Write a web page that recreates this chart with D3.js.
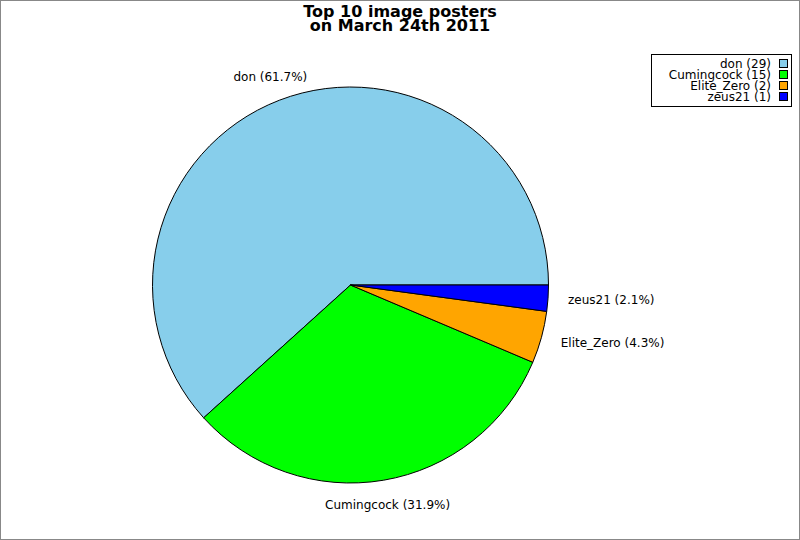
<!DOCTYPE html>
<html>
<head>
<meta charset="utf-8">
<script src="https://cdn.jsdelivr.net/npm/d3@7.9.0/dist/d3.min.js"></script>
<style>
  html, body { margin: 0; padding: 0; background: #fff; }
  svg { display: block; font-family: "DejaVu Sans", sans-serif; }
</style>
</head>
<body>
<svg id="chart" width="800" height="540"></svg>
<script>
const titleLines = ['Top 10 image posters', 'on March 24th 2011'];
const posters = ['don', 'Cumingcock', 'Elite_Zero', 'zeus21'];
const counts = [29, 15, 2, 1];
const colors = ['#87ceeb', '#00ff00', '#ffa500', '#0000ff'];

const width = 800;
const height = 540;
const cx = 350.5;
const cy = 285;
const radius = 198;

const svg = d3.select('#chart');

svg.append('rect')
  .attr('x', 0.5).attr('y', 0.5)
  .attr('width', width - 1).attr('height', height - 1)
  .attr('fill', '#fff')
  .attr('stroke', '#888');

svg.append('text')
  .attr('x', 400)
  .attr('text-anchor', 'middle')
  .attr('font-weight', 'bold')
  .attr('font-size', 16)
  .selectAll('tspan')
  .data(titleLines)
  .join('tspan')
  .attr('x', 400)
  .attr('y', (d, i) => 17 + i * 14)
  .text((d) => d);

let total = d3.sum(counts);
let data = posters.map((name, i) => ({ name, value: counts[i], color: colors[i] }));

// counterclockwise from 3 o'clock
let pie = d3.pie()
  .value((d) => d.value)
  .sort(null)
  .startAngle(Math.PI / 2)
  .endAngle(Math.PI / 2 - 2 * Math.PI);
let arc = d3.arc().innerRadius(0).outerRadius(radius);
let arcData = pie(data);

let g = svg.append('g').attr('transform', `translate(${cx},${cy})`);

g.selectAll('path')
  .data(arcData)
  .join('path')
  .attr('d', arc)
  .attr('fill', (d) => d.data.color)
  .attr('stroke', '#000')
  .attr('stroke-width', 1);

arcData.forEach((d) => {
  let mid = (d.startAngle + d.endAngle) / 2;
  let sx = Math.sin(mid);
  let sy = -Math.cos(mid);
  let anchor = sx > 0.5 ? 'start' : (sx < -0.5 ? 'end' : 'middle');
  let r = anchor === 'middle' ? 223 : 218;
  let pct = (d.data.value / total * 100).toFixed(1);
  g.append('text')
    .attr('x', sx * r)
    .attr('y', sy * r)
    .attr('dy', '0.35em')
    .attr('text-anchor', anchor)
    .attr('font-size', 12)
    .attr('fill', '#000')
    .text(`${d.data.name} (${pct}%)`);
});

// legend
let legend = svg.append('g');
legend.append('rect')
  .attr('x', 651.5).attr('y', 54.5)
  .attr('width', 140).attr('height', 52)
  .attr('fill', '#fff')
  .attr('stroke', '#000');

data.forEach((d, i) => {
  let y = 64 + i * 11;
  legend.append('text')
    .attr('x', 771)
    .attr('y', y)
    .attr('dy', '0.35em')
    .attr('text-anchor', 'end')
    .attr('font-size', 12)
    .text(`${d.name} (${d.value})`);
  legend.append('rect')
    .attr('x', 779.5).attr('y', y - 4.5)
    .attr('width', 8).attr('height', 8)
    .attr('fill', d.color)
    .attr('stroke', '#000');
});
</script>
</body>
</html>
